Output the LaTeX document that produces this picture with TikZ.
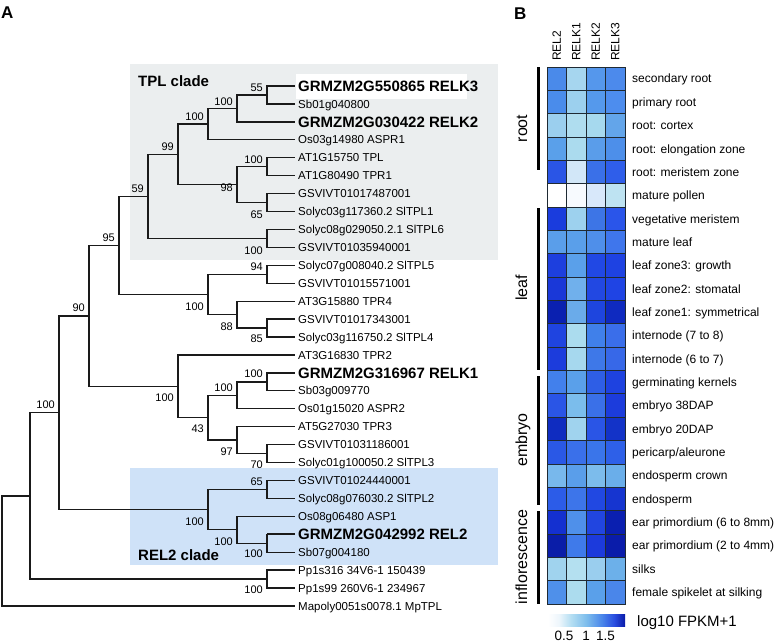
\documentclass[tikz,border=0pt]{standalone}
\usepackage{fontspec}
\setmainfont{Liberation Sans}
\definecolor{treeline}{HTML}{1A1A1A}
\definecolor{tplbg}{HTML}{EBEEEF}
\definecolor{relbg}{HTML}{CFE2F8}
\definecolor{cellborder}{HTML}{1F2A33}
\definecolor{cbA}{HTML}{EEF6FC}
\definecolor{cbB}{HTML}{B4DEF2}
\definecolor{cbC}{HTML}{7DBDEC}
\definecolor{cbD}{HTML}{4A86EA}
\definecolor{cbE}{HTML}{2A4EE0}
\definecolor{cbF}{HTML}{0A1AA8}
\pgfdeclarehorizontalshading{fpkm}{100bp}{color(0bp)=(white); color(25bp)=(white); color(32bp)=(cbA); color(40bp)=(cbB); color(50bp)=(cbC); color(60bp)=(cbD); color(68bp)=(cbE); color(75bp)=(cbF); color(100bp)=(cbF)}
\begin{document}
\begin{tikzpicture}[x=1pt,y=-1pt,
  branch/.style={draw=treeline, line width=1.3pt},
  thickbranch/.style={draw=treeline, line width=2.1pt},
  leaflab/.style={anchor=base west, inner sep=0pt, font=\fontsize{11.5}{12}\selectfont},
  boldlab/.style={anchor=base west, inner sep=0pt, font=\fontsize{15}{16}\selectfont\bfseries},
  boot/.style={anchor=east, inner sep=0pt, font=\fontsize{11}{12}\selectfont},
  cladelab/.style={anchor=west, inner sep=0pt, font=\fontsize{15}{16}\selectfont\bfseries},
  panel/.style={anchor=north west, inner sep=0pt, font=\fontsize{17}{18}\selectfont\bfseries},
  rowlab/.style={anchor=base west, inner sep=0pt, font=\fontsize{12}{13}\selectfont},
  collab/.style={anchor=west, rotate=90, inner sep=0pt, font=\fontsize{12}{13}\selectfont},
  grouplab/.style={anchor=base, rotate=90, inner sep=0pt, font=\fontsize{16}{17}\selectfont},
  groupbar/.style={line width=2.6pt, draw=black},
  ticklab/.style={anchor=center, inner sep=0pt, font=\fontsize{13.5}{14}\selectfont},
]
\useasboundingbox (0,0) rectangle (774,643);

% clade backgrounds
\fill[tplbg] (130,64) rectangle (498,260);
\fill[relbg] (130,468) rectangle (498,565);
\fill[white] (296,74) rectangle (467,99);

% panel letters
\node[panel] (pA) at (1,7) {A};
\node[panel] (pB) at (514,8) {B};

% clade names
\node[cladelab] (tplname) at (138,81) {TPL clade};
\node[cladelab] (relname) at (138,555) {REL2 clade};

% leaves
\foreach \i/\txt/\sty/\off in {
  1/GRMZM2G550865 RELK3/boldlab/5.4,
  2/Sb01g040800/leaflab/4.1,
  3/GRMZM2G030422 RELK2/boldlab/5.4,
  4/Os03g14980 ASPR1/leaflab/4.1,
  5/AT1G15750 TPL/leaflab/4.1,
  6/AT1G80490 TPR1/leaflab/4.1,
  7/GSVIVT01017487001/leaflab/4.1,
  8/Solyc03g117360.2 SlTPL1/leaflab/4.1,
  9/Solyc08g029050.2.1 SlTPL6/leaflab/4.1,
  10/GSVIVT01035940001/leaflab/4.1,
  11/Solyc07g008040.2 SlTPL5/leaflab/4.1,
  12/GSVIVT01015571001/leaflab/4.1,
  13/AT3G15880 TPR4/leaflab/4.1,
  14/GSVIVT01017343001/leaflab/4.1,
  15/Solyc03g116750.2 SlTPL4/leaflab/4.1,
  16/AT3G16830 TPR2/leaflab/4.1,
  17/GRMZM2G316967 RELK1/boldlab/5.4,
  18/Sb03g009770/leaflab/4.1,
  19/Os01g15020 ASPR2/leaflab/4.1,
  20/AT5G27030 TPR3/leaflab/4.1,
  21/GSVIVT01031186001/leaflab/4.1,
  22/Solyc01g100050.2 SlTPL3/leaflab/4.1,
  23/GSVIVT01024440001/leaflab/4.1,
  24/Solyc08g076030.2 SlTPL2/leaflab/4.1,
  25/Os08g06480 ASP1/leaflab/4.1,
  26/GRMZM2G042992 REL2/boldlab/5.4,
  27/Sb07g004180/leaflab/4.1,
  28/Pp1s316 34V6-1 150439/leaflab/4.1,
  29/Pp1s99 260V6-1 234967/leaflab/4.1,
  30/Mapoly0051s0078.1 MpTPL/leaflab/4.1} {
  \pgfmathsetmacro{\yy}{86+(\i-1)*17.93}
  \pgfmathsetmacro{\yb}{\yy+\off}
  \coordinate (L\i) at (295,\yy);
  \node[\sty] (T\i) at (298,\yb) {\txt};
}

% internal nodes
\coordinate (R) at (2,551.0);
\coordinate (N30) at (30,495.9);
\coordinate (N59) at (59,412.7);
\coordinate (N89) at (89,315.9);
\coordinate (N119) at (119,245.4);
\coordinate (N148) at (148,196.4);
\coordinate (N178a) at (178,154.4);
\coordinate (N208a) at (208,124.1);
\coordinate (N237a) at (237,108.4);
\coordinate (N267a) at (267,95.0);
\coordinate (N237b) at (237,184.6);
\coordinate (N267b) at (267,166.7);
\coordinate (N267bb) at (267,202.6);
\coordinate (N267c) at (267,238.4);
\coordinate (N208b) at (208,294.4);
\coordinate (N267d) at (267,274.3);
\coordinate (N237c) at (237,314.6);
\coordinate (N267e) at (267,328.0);
\coordinate (N178b) at (178,386.3);
\coordinate (N208c) at (208,417.7);
\coordinate (N237d) at (237,395.3);
\coordinate (N267f) at (267,381.9);
\coordinate (N237e) at (237,440.1);
\coordinate (N267g) at (267,453.6);
\coordinate (NREL) at (208,509.6);
\coordinate (N267h) at (267,489.4);
\coordinate (N237f) at (237,529.8);
\coordinate (N267i) at (267,543.2);
\coordinate (NPp) at (267,579.1);

% branches
\foreach \p/\c in {R/N30, R/L30, N30/N59, N30/NPp, N59/N89, N59/NREL,
  N89/N119, N89/N178b, N119/N148, N119/N208b, N148/N178a, N148/N267c,
  N178a/N208a, N178a/N237b, N208a/N237a, N208a/L4, N237a/N267a, N237a/L3,
  N267a/L1, N267a/L2, N237b/N267b, N237b/N267bb, N267b/L5, N267b/L6,
  N267bb/L7, N267bb/L8, N267c/L9, N267c/L10, N208b/N267d, N208b/N237c,
  N267d/L11, N267d/L12, N237c/L13, N237c/N267e, N267e/L14, N267e/L15,
  N178b/L16, N178b/N208c, N208c/N237d, N208c/N237e, N237d/N267f, N237d/L19,
  N267f/L17, N267f/L18, N237e/L20, N237e/N267g, N267g/L21, N267g/L22,
  NREL/N267h, NREL/N237f, N267h/L23, N267h/L24, N237f/L25, N237f/N267i,
  N267i/L26, N267i/L27, NPp/L28, NPp/L29} {
  \draw[branch] (\p) |- (\c);
}
\draw[thickbranch] (L1 -| N267a) -- (L1);
\draw[thickbranch] (L3 -| N237a) -- (L3);
\draw[thickbranch] (L17 -| N267f) -- (L17);
\draw[thickbranch] (L26 -| N267i) -- (L26);

% bootstrap values
\foreach \nm/\x/\y/\v in {
  b267a/263/88/55, b237a/233/102/100, b208a/204/117/100, b178a/174/147/99,
  b148/144/189/59, b267b/263/160/100, b237b/233/188/98, b267bb/263/215/65,
  b267c/263/251/100, b119/115/238/95, b267d/263/267/94, b208b/204/307/100,
  b237c/233/327/88, b267e/263/339/85, b89/85/308/90, b267f/263/374/100,
  b237d/233/388/100, b178b/174/398/100, b59/55/405/100, b208c/204/429/43,
  b237e/233/452/97, b267g/263/465/70, b267h/263/482/65, bREL/204/522/100,
  b237f/233/542/100, b267i/263/554/100, bPp/263/590/100} {
  \node[boot] (\nm) at (\x,\y) {\v};
}

% heatmap
\foreach \r/\lab/\cols in {
  1/secondary root/{4A8AEA,A6D6EF,5597EC,4C8AEC},
  2/primary root/{4A8CEB,9CD0EE,5599EC,4D8DEE},
  3/root: cortex/{9BCFEE,AFDDEF,A6D9EE,63A5EA},
  4/root: elongation zone/{5AA0EA,ABDBEE,5A9DEA,4D8FEA},
  5/root: meristem zone/{2A55E6,D2E7F8,3A70E8,2F5EEA},
  6/mature pollen/{FFFFFF,F7FAFE,D8E8FA,BEE3F2},
  7/vegetative meristem/{1A3CDD,9DD1EE,3D75E6,2A55EA},
  8/mature leaf/{5A9EEA,5A9FEA,4F8FEA,3F76EC},
  9/leaf zone3: growth/{1D3FDE,5AA0EA,2148E4,1E42E2},
  10/leaf zone2: stomatal/{1A38D8,70B0EC,2248E2,1F44E4},
  11/leaf zone1: symmetrical/{0A20B0,6AABEA,1E45DE,0F2AC0},
  12/internode (7 to 8)/{1F44E0,ABDCEE,4080EA,3A6EEA},
  13/internode (6 to 7)/{1C3CDC,A6D8EE,3E78E8,3768E8},
  14/germinating kernels/{4280EC,5AA0EA,2E5EE6,1E42E0},
  15/embryo 38DAP/{2A55E6,7BBDEC,3A70E8,1C3CDC},
  16/embryo 20DAP/{0F2CC0,A0D3EE,2A55E6,1333C8},
  17/{pericarp/aleurone}/{2A58E6,3A70EA,3A75EA,2E60E8},
  18/endosperm crown/{78B8EC,5A9EEA,7CBCEC,6AAEEA},
  19/endosperm/{2C5CE8,3D75EA,2148E2,1635D0},
  20/ear primordium (6 to 8mm)/{1430D0,4F90EA,2145E0,0A1FB0},
  21/ear primordium (2 to 4mm)/{0A1DA8,3F7AEA,1C3ADC,0A1CAA},
  22/silks/{A0D3EE,B4E0F0,9ACEEE,6CB0EA},
  23/female spikelet at silking/{4F90EA,ACDCEE,5AA0EA,4A86EA}} {
  \pgfmathsetmacro{\ytop}{67+(\r-1)*23.35}
  \pgfmathsetmacro{\ybot}{67+\r*23.35}
  \pgfmathsetmacro{\ylab}{67+(\r-0.5)*23.35+4.3}
  \foreach \c [count=\k] in \cols {
    \definecolor{cellc}{HTML}{\c}
    \pgfmathsetmacro{\xl}{547+(\k-1)*19.5}
    \pgfmathsetmacro{\xr}{547+\k*19.5}
    \filldraw[fill=cellc, draw=cellborder, line width=0.9pt] (\xl,\ytop) rectangle (\xr,\ybot);
  }
  \node[rowlab] (row\r) at (632,\ylab) {\lab};
}

% column labels
\node[collab] (cREL2) at (556.75,61) {REL2};
\node[collab] (cRELK1) at (576.25,61) {RELK1};
\node[collab] (cRELK2) at (595.75,61) {RELK2};
\node[collab] (cRELK3) at (615.25,61) {RELK3};

% group bars and labels
\draw[groupbar] (538.5,67) -- (538.5,170);
\draw[groupbar] (538.5,208) -- (538.5,370);
\draw[groupbar] (538.5,376) -- (538.5,505);
\draw[groupbar] (538.5,511) -- (538.5,604);
\node[grouplab] (groot) at (527,128.5) {root};
\node[grouplab] (gleaf) at (527,288) {leaf};
\node[grouplab] (gemb) at (527,440) {embryo};
\node[grouplab] (ginf) at (527,557) {inflorescence};

% colour bar
\shade[shading=fpkm] (548,614) rectangle (625,626);
\node[anchor=base west, inner sep=0pt, font=\fontsize{15}{16}\selectfont] (cbtitle) at (637,626.4) {log10 FPKM+1};
\node[ticklab] (t05) at (564,635.5) {0.5};
\node[ticklab] (t1) at (586,635.5) {1};
\node[ticklab] (t15) at (605.5,635.5) {1.5};
\end{tikzpicture}
\end{document}
